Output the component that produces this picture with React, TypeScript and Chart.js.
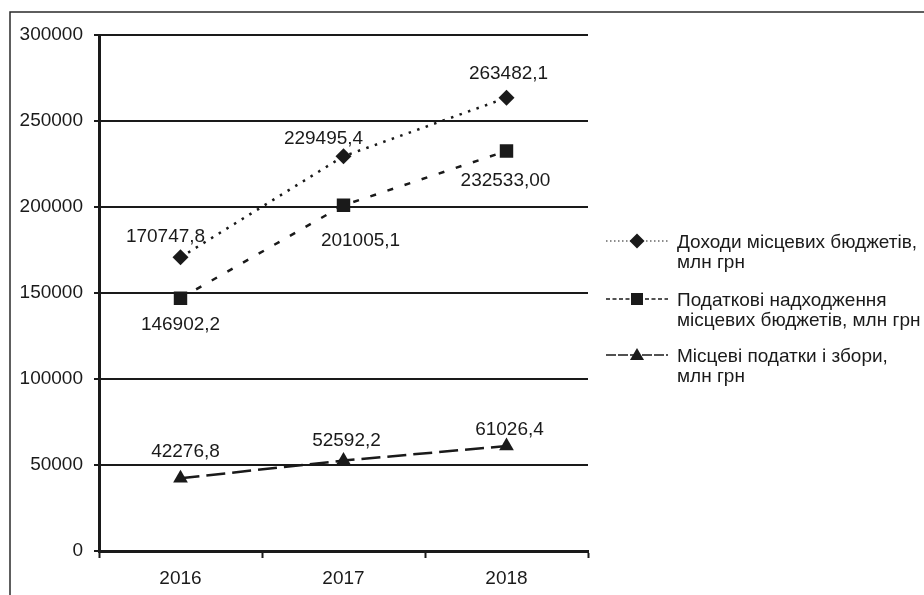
import React, { useEffect, useRef } from 'react';
import { Chart, registerables } from 'chart.js';

Chart.register(...registerables);

// ---- data ----
const years = ['2016', '2017', '2018'];
const revenues = [170747.8, 229495.4, 263482.1];
const taxRevenues = [146902.2, 201005.1, 232533.0];
const localTaxes = [42276.8, 52592.2, 61026.4];
const revenueLabels = ['170747,8', '229495,4', '263482,1'];
const taxRevenueLabels = ['146902,2', '201005,1', '232533,00'];
const localTaxLabels = ['42276,8', '52592,2', '61026,4'];
const seriesNames = [
  ['Доходи місцевих бюджетів,', 'млн грн'],
  ['Податкові надходження', 'місцевих бюджетів, млн грн'],
  ['Місцеві податки і збори,', 'млн грн'],
];
const yMin = 0;
const yMax = 300000;
const yStep = 50000;

// ---- style ----
const FONT = "'Liberation Sans', Arial, Helvetica, sans-serif";
const FONT_SIZE = 19;
const INK = '#1a1a1a';
const dashes = [[2.5, 6.5], [6, 12], [19, 7]];
const legendDashes = [[1.5, 2.5], [4, 2.5], [10, 2]];
const pointStyles = ['rectRot', 'rect', 'triangle'];
const pointRadii = [8, 9.5, 8.5];
const valueLabels = [revenueLabels, taxRevenueLabels, localTaxLabels];
const labelOffsets = [
  [[-15, -21], [-20, -18], [2, -24]],
  [[0, 26], [17, 35], [-1, 30]],
  [[5, -27], [3, -20], [3, -16]],
];

const framePlugin = {
  id: 'frame',
  beforeDraw(chart: any) {
    const ctx = chart.ctx;
    ctx.save();
    ctx.fillStyle = '#ffffff';
    ctx.fillRect(0, 0, chart.width, chart.height);
    ctx.strokeStyle = '#2a2a2a';
    ctx.lineWidth = 1.5;
    ctx.beginPath();
    ctx.moveTo(10, chart.height);
    ctx.lineTo(10, 12);
    ctx.lineTo(chart.width, 12);
    ctx.stroke();
    ctx.restore();
  },
};

const valueLabelPlugin = {
  id: 'valueLabels',
  afterDatasetsDraw(chart: any) {
    const ctx = chart.ctx;
    ctx.save();
    ctx.font = `${FONT_SIZE}px ${FONT}`;
    ctx.fillStyle = INK;
    ctx.textAlign = 'center';
    ctx.textBaseline = 'middle';
    chart.data.datasets.forEach((_ds: any, di: number) => {
      const meta = chart.getDatasetMeta(di);
      meta.data.forEach((pt: any, i: number) => {
        const [dx, dy] = labelOffsets[di][i];
        ctx.fillText(valueLabels[di][i], pt.x + dx, pt.y + dy);
      });
    });
    ctx.restore();
  },
};

const legendPlugin = {
  id: 'customLegend',
  afterDraw(chart: any) {
    const ctx = chart.ctx;
    const markerYs = [241, 299, 355];
    const lineX0 = 606;
    const lineX1 = 668;
    const markerX = 637;
    const textX = 677;
    ctx.save();
    seriesNames.forEach((lines, i) => {
      const y = markerYs[i];
      ctx.strokeStyle = INK;
      ctx.lineWidth = i === 0 ? 1.2 : 1.6;
      ctx.setLineDash(legendDashes[i]);
      ctx.beginPath();
      ctx.moveTo(lineX0, y);
      ctx.lineTo(lineX1, y);
      ctx.stroke();
      ctx.setLineDash([]);
      ctx.fillStyle = INK;
      ctx.beginPath();
      if (i === 0) {
        ctx.moveTo(markerX, y - 7.5);
        ctx.lineTo(markerX + 7.5, y);
        ctx.lineTo(markerX, y + 7.5);
        ctx.lineTo(markerX - 7.5, y);
      } else if (i === 1) {
        ctx.rect(markerX - 6, y - 6, 12, 12);
      } else {
        ctx.moveTo(markerX, y - 7);
        ctx.lineTo(markerX + 7, y + 5);
        ctx.lineTo(markerX - 7, y + 5);
      }
      ctx.closePath();
      ctx.fill();
      ctx.font = `${FONT_SIZE}px ${FONT}`;
      ctx.textAlign = 'left';
      ctx.textBaseline = 'alphabetic';
      lines.forEach((t, k) => {
        ctx.fillText(t, textX, y + 7 + k * 20);
      });
    });
    ctx.restore();
  },
};

export default function App() {
  const ref = useRef<HTMLCanvasElement | null>(null);

  useEffect(() => {
    if (!ref.current) return;
    const mk = (data: number[], i: number) => ({
      label: seriesNames[i].join(' '),
      data,
      borderColor: INK,
      backgroundColor: INK,
      borderWidth: 2.5,
      borderDash: dashes[i],
      pointStyle: pointStyles[i],
      pointRadius: pointRadii[i],
      pointBackgroundColor: INK,
      pointBorderColor: INK,
      pointBorderWidth: 0,
      tension: 0,
      fill: false,
    });
    const chart = new Chart(ref.current, {
      type: 'line',
      data: {
        labels: years,
        datasets: [mk(revenues, 0), mk(taxRevenues, 1), mk(localTaxes, 2)],
      },
      options: {
        animation: false,
        responsive: false,
        maintainAspectRatio: false,
        devicePixelRatio: 1,
        layout: { padding: { top: 35, right: 336, bottom: 0, left: 0 } },
        plugins: {
          legend: { display: false },
          tooltip: { enabled: false },
          title: { display: false },
        },
        scales: {
          x: {
            type: 'category',
            offset: true,
            afterFit: (s: any) => { s.height = 44; },
            grid: {
              offset: true,
              drawOnChartArea: false,
              drawTicks: true,
              tickLength: 7,
              tickWidth: 2,
              tickColor: INK,
            },
            border: { display: true, color: INK, width: 3 },
            ticks: {
              color: INK,
              padding: 9,
              font: { family: FONT, size: FONT_SIZE },
              maxRotation: 0,
            },
          },
          y: {
            min: yMin,
            max: yMax,
            afterFit: (s: any) => { s.width = 99; },
            grid: {
              color: INK,
              lineWidth: 2,
              drawTicks: true,
              tickLength: 5,
              tickWidth: 2,
              tickColor: INK,
            },
            border: { display: true, color: INK, width: 3 },
            ticks: {
              stepSize: yStep,
              color: INK,
              padding: 11,
              font: { family: FONT, size: FONT_SIZE },
              callback: (v: any) => String(v),
            },
          },
        },
      },
      plugins: [framePlugin, valueLabelPlugin, legendPlugin],
    });
    return () => chart.destroy();
  }, []);

  return (
    <div style={{ position: 'absolute', left: 0, top: 0, width: 924, height: 595, background: '#fff' }}>
      <canvas ref={ref} width={924} height={595} />
    </div>
  );
}
